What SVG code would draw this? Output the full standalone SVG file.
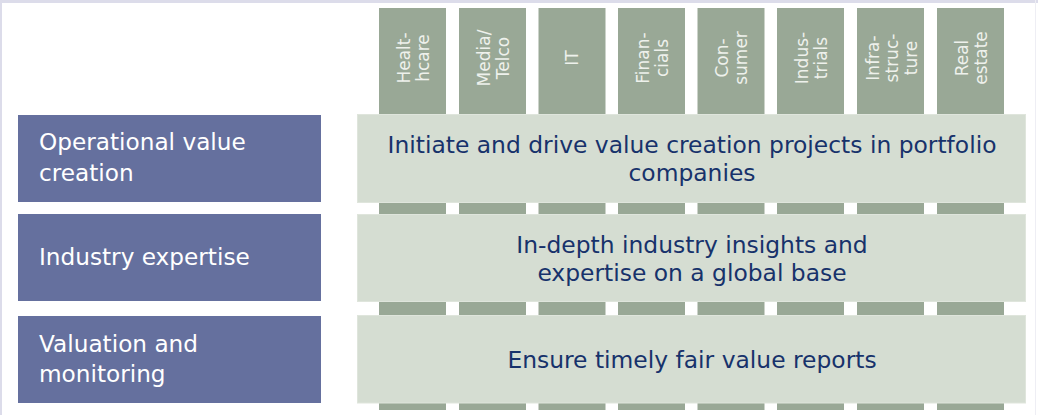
<svg xmlns="http://www.w3.org/2000/svg" width="1038" height="415" viewBox="0 0 1038 415">
<style>
.bar{fill:#99a896}
.row{fill:#d5ddd2;stroke:#dfe5dc;stroke-width:1}
.lbox{fill:#65709e}
.ltxt{font-family:"DejaVu Sans",Verdana,sans-serif;font-size:23.2px;fill:#ffffff}
.ctxt{font-family:"DejaVu Sans",Verdana,sans-serif;font-size:23.4px;fill:#17326b;text-anchor:middle}
.vtxt{font-family:"DejaVu Sans",Verdana,sans-serif;font-size:17px;fill:#eef1ec;text-anchor:middle}
</style>
<rect x="0" y="0" width="1038" height="415" fill="#ffffff"/>
<rect x="0" y="0" width="1038" height="3" fill="#dcdcea"/>
<rect x="0" y="0" width="2" height="415" fill="#dcdcea"/>
<rect x="1035" y="0" width="1" height="415" fill="#eeeef4"/>
<g id="columns">
  <g id="col-healthcare"><rect class="bar" x="379" y="8" width="67" height="402"/>
    <text class="vtxt" transform="translate(412.5,58) rotate(-90)"><tspan x="0" y="-3">Healt-</tspan><tspan x="0" y="16">hcare</tspan></text></g>
  <g id="col-media"><rect class="bar" x="459" y="8" width="67" height="402"/>
    <text class="vtxt" transform="translate(492.5,58) rotate(-90)"><tspan x="0" y="-3">Media/</tspan><tspan x="0" y="16">Telco</tspan></text></g>
  <g id="col-it"><rect class="bar" x="538.5" y="8" width="67" height="402"/>
    <text class="vtxt" transform="translate(572,58) rotate(-90)"><tspan x="0" y="6">IT</tspan></text></g>
  <g id="col-financials"><rect class="bar" x="618" y="8" width="67" height="402"/>
    <text class="vtxt" transform="translate(651.5,58) rotate(-90)"><tspan x="0" y="-3">Finan-</tspan><tspan x="0" y="16">cials</tspan></text></g>
  <g id="col-consumer"><rect class="bar" x="697.5" y="8" width="67" height="402"/>
    <text class="vtxt" transform="translate(731,58) rotate(-90)"><tspan x="0" y="-3">Con-</tspan><tspan x="0" y="16">sumer</tspan></text></g>
  <g id="col-industrials"><rect class="bar" x="777" y="8" width="67" height="402"/>
    <text class="vtxt" transform="translate(810.5,58) rotate(-90)"><tspan x="0" y="-3">Indus-</tspan><tspan x="0" y="16">trials</tspan></text></g>
  <g id="col-infrastructure"><rect class="bar" x="857" y="8" width="67" height="402"/>
    <text class="vtxt" transform="translate(890.5,58) rotate(-90)"><tspan x="0" y="-12">Infra-</tspan><tspan x="0" y="7">struc-</tspan><tspan x="0" y="26">ture</tspan></text></g>
  <g id="col-realestate"><rect class="bar" x="937" y="8" width="67" height="402"/>
    <text class="vtxt" transform="translate(970.5,58) rotate(-90)"><tspan x="0" y="-3">Real</tspan><tspan x="0" y="16">estate</tspan></text></g>
</g>
<g id="row-operational">
  <rect class="lbox" x="18" y="115" width="303" height="87"/>
  <text class="ltxt"><tspan x="39" y="150">Operational value</tspan><tspan x="39" y="181">creation</tspan></text>
  <rect class="row" x="357.5" y="114.5" width="668" height="88"/>
  <text class="ctxt"><tspan x="692" y="153">Initiate and drive value creation projects in portfolio</tspan><tspan x="692" y="181">companies</tspan></text>
</g>
<g id="row-industry">
  <rect class="lbox" x="18" y="214" width="303" height="87"/>
  <text class="ltxt" x="39" y="265">Industry expertise</text>
  <rect class="row" x="357.5" y="214.5" width="668" height="87"/>
  <text class="ctxt"><tspan x="692" y="253">In-depth industry insights and</tspan><tspan x="692" y="281">expertise on a global base</tspan></text>
</g>
<g id="row-valuation">
  <rect class="lbox" x="18" y="316" width="303" height="87"/>
  <text class="ltxt"><tspan x="39" y="352">Valuation and</tspan><tspan x="39" y="382">monitoring</tspan></text>
  <rect class="row" x="357.5" y="315.5" width="668" height="87.5"/>
  <text class="ctxt" x="692" y="368">Ensure timely fair value reports</text>
</g>
<g id="connectors"></g>
</svg>
